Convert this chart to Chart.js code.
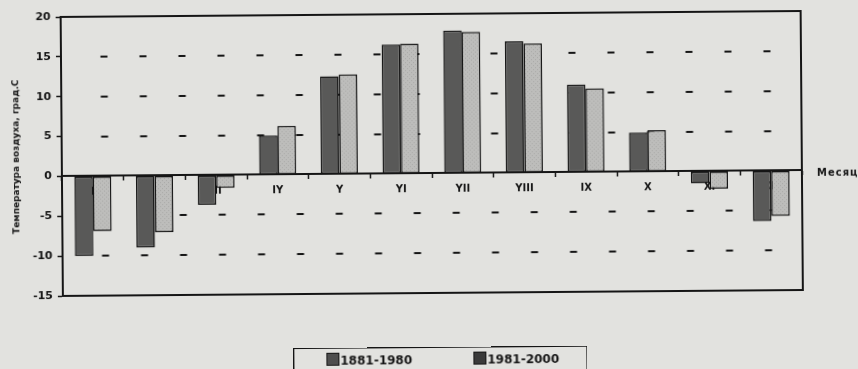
<!DOCTYPE html>
<html lang="ru">
<head>
<meta charset="utf-8">
<title>Температура воздуха</title>
<script src="https://cdn.jsdelivr.net/npm/chart.js@4.4.1/dist/chart.umd.min.js"></script>
<style>
    html, body {
        margin: 0;
        padding: 0;
        background: #e2e2df;
        overflow: hidden;
    }

    #page {
        position: relative;
        width: 858px;
        height: 369px;
        transform: rotate(-0.46deg);
        transform-origin: 429px 184px;
    }

    #page canvas {
        position: absolute;
        left: 0;
        top: 0;
    }

    .legend {
        position: absolute;
        left: 292px;
        top: 347px;
        width: 292px;
        height: 30px;
        border: 1.5px solid #151515;
        font: bold 12px "DejaVu Sans", sans-serif;
        color: #151515;
    }

    .legend .item {
        position: absolute;
        top: 4px;
        line-height: 15px;
    }

    .legend .swatch {
        display: inline-block;
        width: 11px;
        height: 11px;
        margin-right: 1px;
        vertical-align: -1px;
        border: 1px solid #151515;
    }
</style>
</head>
<body>
<div id="page">
    <canvas id="tempChart" width="858" height="369"></canvas>
    <div class="legend">
        <span class="item" style="left: 32px"><span class="swatch" style="background:#4e4e4e"></span>1881-1980</span>
        <span class="item" style="left: 179px"><span class="swatch" style="background:#3a3a3a"></span>1981-2000</span>
    </div>
</div>

<script>
    // monthly mean air temperature, two periods
    const months = ['I', 'II', 'III', 'IY', 'Y', 'YI', 'YII', 'YIII', 'IX', 'X', 'XI', 'XII'];
    const temp1881 = [-10.0, -9.0, -3.7, 4.9, 12.3, 16.2, 17.9, 16.5, 11.0, 4.9, -1.5, -6.3];
    const temp1981 = [-6.9, -7.1, -1.6, 6.1, 12.5, 16.3, 17.7, 16.2, 10.5, 5.2, -2.2, -5.7];
    const yMin = -15;
    const yMax = 20;
    const yStep = 5;

    const ink = '#151515';
    const font = '"DejaVu Sans", sans-serif';

    // light bars have a faint stipple
    function stipple() {
        const c = document.createElement('canvas');
        c.width = 4;
        c.height = 4;
        const g = c.getContext('2d');
        g.fillStyle = '#bdbdbb';
        g.fillRect(0, 0, 4, 4);
        g.fillStyle = '#a9a9a7';
        g.fillRect(0, 0, 1, 1);
        g.fillRect(2, 2, 1, 1);
        return g.createPattern(c, 'repeat');
    }

    // short dashes across the plot, the frame and the axis caption
    const plotDecor = {
        id: 'plotDecor',
        beforeDatasetsDraw(chart) {
            const { ctx, chartArea: a, scales: { y } } = chart;
            ctx.save();
            ctx.strokeStyle = ink;
            ctx.lineWidth = 2;
            ctx.setLineDash([7, 32]);
            y.ticks.forEach(t => {
                if (t.value === 0 || t.value === yMin || t.value === yMax) return;
                const py = Math.round(y.getPixelForValue(t.value));
                ctx.beginPath();
                ctx.moveTo(a.left + 39.5, py);
                ctx.lineTo(a.right, py);
                ctx.stroke();
            });
            ctx.restore();
        },
        afterDraw(chart) {
            const { ctx, chartArea: a, scales: { y } } = chart;
            ctx.save();
            ctx.strokeStyle = ink;
            ctx.lineWidth = 2;
            ctx.strokeRect(a.left, a.top, a.right - a.left, a.bottom - a.top);

            ctx.fillStyle = ink;
            ctx.font = `bold 10px ${font}`;
            ctx.letterSpacing = '1px';
            ctx.textBaseline = 'middle';
            ctx.fillText('Месяц', a.right + 15, y.getPixelForValue(0) + 3);
            ctx.restore();
        }
    };

    const ctx = document.querySelector('#tempChart');
    new Chart(ctx, {
        type: 'bar',
        data: {
            labels: months,
            datasets: [{
                label: '1881-1980',
                data: temp1881,
                backgroundColor: '#595958',
                borderColor: ink,
                borderWidth: 1.5,
                borderSkipped: false
            }, {
                label: '1981-2000',
                data: temp1981,
                backgroundColor: stipple(),
                borderColor: ink,
                borderWidth: 1.5,
                borderSkipped: false
            }]
        },
        options: {
            responsive: false,
            animation: false,
            categoryPercentage: 0.6,
            barPercentage: 1.0,
            layout: {
                padding: { left: 0, right: 56, top: 14, bottom: 76 }
            },
            plugins: {
                legend: { display: false },
                tooltip: { enabled: false }
            },
            scales: {
                x: {
                    position: { y: 0 },
                    z: 1,
                    grid: {
                        drawOnChartArea: false,
                        offset: true,
                        tickLength: 4,
                        tickColor: ink,
                        tickWidth: 1.5
                    },
                    border: { color: ink, width: 2 },
                    ticks: {
                        color: ink,
                        font: { family: font, weight: 'bold', size: 10 },
                        padding: 6,
                        maxRotation: 0,
                        autoSkip: false
                    },
                    afterFit(scale) {
                        scale.height = 0;
                    }
                },
                y: {
                    min: yMin,
                    max: yMax,
                    grid: {
                        drawOnChartArea: false,
                        tickLength: 5,
                        tickColor: ink,
                        tickWidth: 1.5
                    },
                    border: { color: ink, width: 2 },
                    ticks: {
                        stepSize: yStep,
                        color: ink,
                        font: { family: font, weight: 'bold', size: 11 },
                        padding: 5
                    },
                    title: {
                        display: true,
                        text: 'Температура воздуха, град.С',
                        color: ink,
                        font: { family: font, weight: 'bold', size: 9 },
                        padding: { top: 11, bottom: 0 }
                    },
                    afterFit(scale) {
                        scale.width = 62;
                    }
                }
            }
        },
        plugins: [plotDecor]
    });
</script>
</body>
</html>
